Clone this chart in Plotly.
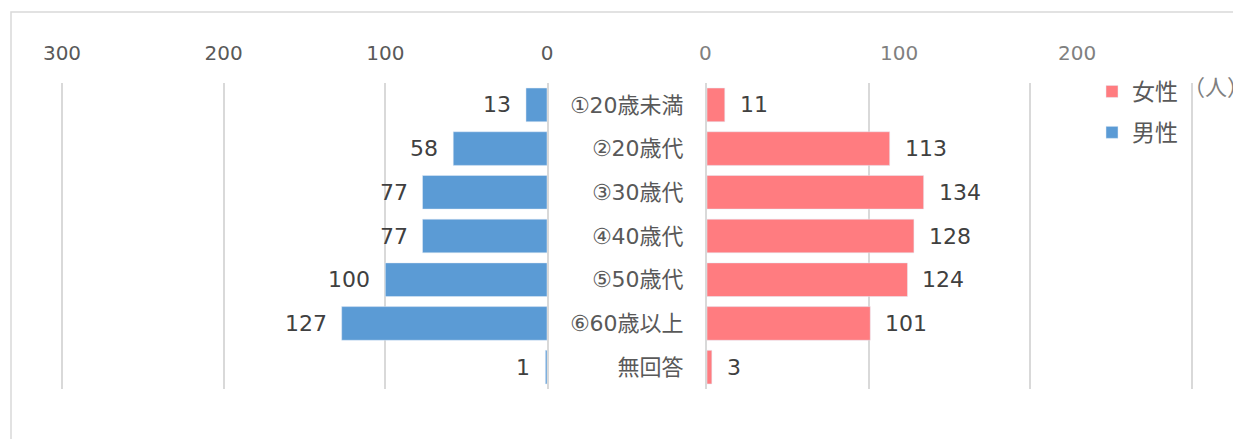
import plotly.graph_objects as go

# ---- data ----
categories = ["①20歳未満", "②20歳代", "③30歳代", "④40歳代", "⑤50歳代", "⑥60歳以上", "無回答"]
male = [13, 58, 77, 77, 100, 127, 1]
female = [11, 113, 134, 128, 124, 101, 3]
left_ticks = [0, 100, 200, 300]
right_grid = [100, 200, 300]
right_tick_text = ["0", "100", "200"]

# ---- style / layout constants ----
W, H = 1233, 439
FONT = "DejaVu Sans, Noto Sans CJK JP, sans-serif"
BLUE = "#5B9BD5"
PINK = "#FF7C80"
GRID = "#D9D9D9"
TXT = "#595959"
TXT_LIGHT = "#808080"
LBL = "#404040"
right_tick_pos = [0, 119, 229]   # where the right-hand tick texts sit in the reference

PX = 485 / 300.0                # pixels per unit
L_DOM = [(62 - PX) / W, 547 / W]
R_DOM = [707 / W, (1192 + PX) / W]
TOP, BOT = 83, 389
TICK_Y = 1 + (TOP - 53) / (BOT - TOP)   # paper y of the top tick labels

fig = go.Figure()

fig.add_trace(go.Bar(
    x=male, y=categories, orientation="h", name="男性",
    marker=dict(color=BLUE), xaxis="x", yaxis="y",
    legendrank=2, legendgroup="m", hoverinfo="x+y",
))
fig.add_trace(go.Bar(
    x=female, y=categories, orientation="h", name="女性",
    marker=dict(color=PINK), xaxis="x2", yaxis="y2",
    legendrank=1, legendgroup="f", hoverinfo="x+y",
))

annotations = []
for c, v in zip(categories, male):
    annotations.append(dict(x=v, y=c, xref="x", yref="y", text=str(v), showarrow=False,
                            xanchor="right", xshift=-13,
                            font=dict(family=FONT, size=22, color=LBL)))
for c, v in zip(categories, female):
    annotations.append(dict(x=v, y=c, xref="x2", yref="y2", text=str(v), showarrow=False,
                            xanchor="left", xshift=13,
                            font=dict(family=FONT, size=22, color=LBL)))
# right-hand top tick texts (sit off the gridlines in the reference)
for p, t in zip(right_tick_pos, right_tick_text):
    annotations.append(dict(x=p, y=TICK_Y, xref="x2", yref="paper", text=t, showarrow=False,
                            xanchor="center", yanchor="middle", xshift=-2 if p == 0 else 0,
                            font=dict(family=FONT, size=20, color=TXT_LIGHT)))
annotations.append(dict(x=1181 / W, y=1 + (TOP - 85) / (BOT - TOP), xref="paper", yref="paper",
                        text="（人）", showarrow=False, xanchor="left", yanchor="middle",
                        font=dict(family="Noto Sans CJK JP", size=22, color=TXT_LIGHT)))

axis_common = dict(showgrid=True, gridcolor=GRID, gridwidth=1.5, zeroline=False,
                   showline=False, ticks="", fixedrange=True, automargin=False)

fig.update_layout(
    width=W, height=H,
    margin=dict(l=0, r=0, t=TOP, b=H - BOT, autoexpand=False),
    paper_bgcolor="white", plot_bgcolor="white",
    font=dict(family=FONT, size=22, color=TXT),
    barmode="overlay", bargap=0.23,
    showlegend=True,
    legend=dict(x=1092 / W, y=1 + (TOP - 70) / (BOT - TOP), xanchor="left", yanchor="top",
                bgcolor="rgba(0,0,0,0)", traceorder="grouped", tracegroupgap=8,
                font=dict(family="Noto Sans CJK JP", size=23, color=TXT), itemwidth=30),
    xaxis=dict(domain=L_DOM, range=[301, 0], side="top", anchor="y",
               tickvals=left_ticks, ticklabelstandoff=18,
               tickfont=dict(family=FONT, size=20, color=TXT), **axis_common),
    yaxis=dict(domain=[0, 1], anchor="x", side="right", autorange="reversed",
               showticklabels=False, showline=True, linecolor=GRID, linewidth=2,
               showgrid=False, zeroline=False, ticks="", fixedrange=True),
    xaxis2=dict(domain=R_DOM, range=[0, 301], side="top", anchor="y2",
                tickvals=right_grid, showticklabels=False, **axis_common),
    yaxis2=dict(domain=[0, 1], anchor="x2", side="left", matches="y",
                showline=True, linecolor=GRID, linewidth=2, showgrid=False, zeroline=False,
                ticks="", ticklabelstandoff=17, automargin=False,
                tickfont=dict(family=FONT, size=22, color=TXT)),
    annotations=annotations,
    shapes=[dict(type="rect", xref="paper", yref="paper",
                 x0=11 / W, x1=1.2, y0=-0.6, y1=1 + (TOP - 12) / (BOT - TOP),
                 line=dict(color=GRID, width=1.5), fillcolor="rgba(0,0,0,0)", layer="below")],
)

fig.write_html("out.html",
               config={"displayModeBar": False},
               post_script="document.body.style.margin='0';document.body.style.overflow='hidden';")
